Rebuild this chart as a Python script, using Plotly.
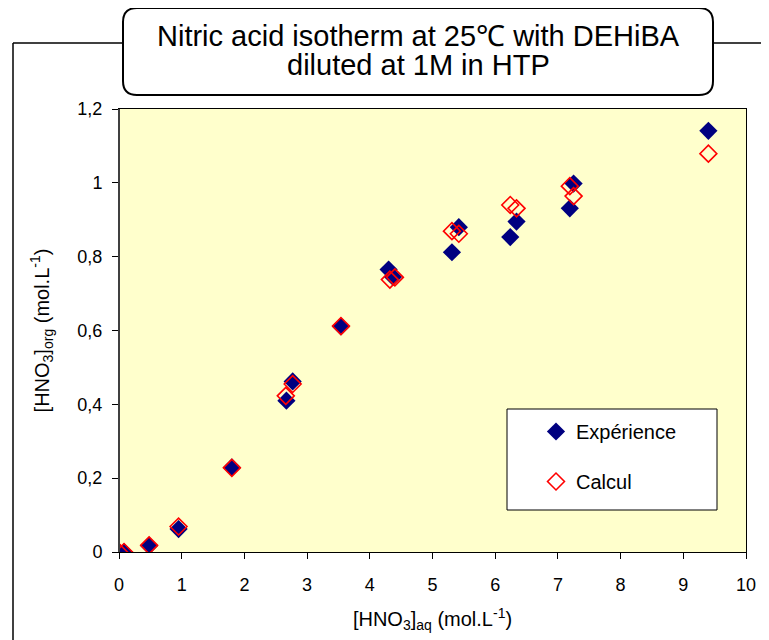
import plotly.graph_objects as go

# Nitric acid isotherm - DEHiBA 1M in HTP, 25 C
x_exp = [0, 0.08, 0.48, 0.95, 1.80, 2.67, 2.77, 3.54, 4.30, 4.37, 5.31, 5.42, 6.24, 6.34, 7.19, 7.25, 9.40]
y_exp = [0, 0, 0.017, 0.062, 0.229, 0.41, 0.462, 0.611, 0.765, 0.745, 0.812, 0.880, 0.853, 0.895, 0.931, 0.998, 1.141]

x_calc = [0, 0.08, 0.48, 0.95, 1.80, 2.66, 2.77, 3.54, 4.32, 4.40, 5.31, 5.42, 6.24, 6.34, 7.19, 7.25, 9.40]
y_calc = [0, 0, 0.018, 0.069, 0.228, 0.423, 0.455, 0.612, 0.738, 0.744, 0.869, 0.862, 0.940, 0.931, 0.991, 0.964, 1.079]

x_ticks = [0, 1, 2, 3, 4, 5, 6, 7, 8, 9, 10]
y_ticks = [0, 0.2, 0.4, 0.6, 0.8, 1.0, 1.2]
y_tick_labels = ['0', '0,2', '0,4', '0,6', '0,8', '1', '1,2']

font_name = 'Liberation Sans, Arial, sans-serif'

# page has an 8px body margin, so work in screen pixels and shift
OFF = 8
FW, FH = 769 - OFF, 640 - OFF
# plot area in screen pixels: x 119..746, y 109..552
L, R, T, B = 119, 746, 109, 552
W, H = R - L, B - T

def px(v):
    return (v - L) / W

def py(v):
    return (B - v) / H

fig = go.Figure()
fig.add_trace(go.Scatter(
    x=x_exp, y=y_exp, mode='markers', name='Expérience', legendgroup='a',
    marker=dict(symbol='diamond', size=14, color='#000080', line=dict(width=0))))
fig.add_trace(go.Scatter(
    x=x_calc, y=y_calc, mode='markers', name='Calcul', legendgroup='b',
    marker=dict(symbol='diamond-open', size=13, color='#FF0000', line=dict(width=1.6, color='#FF0000'))))

# outer frame and title box
r = 14
x0, x1, y0, y1 = px(123), px(713), py(95), py(8)
rx, ry = r / W, r / H
title_path = (f'M {x0+rx},{y1} L {x1-rx},{y1} Q {x1},{y1} {x1},{y1-ry} '
              f'L {x1},{y0+ry} Q {x1},{y0} {x1-rx},{y0} L {x0+rx},{y0} '
              f'Q {x0},{y0} {x0},{y0+ry} L {x0},{y1-ry} Q {x0},{y1} {x0+rx},{y1} Z')
shapes = [
    dict(type='line', xref='paper', yref='paper', x0=px(13), x1=px(13), y0=py(660), y1=py(43),
         line=dict(color='black', width=1.5)),
    dict(type='line', xref='paper', yref='paper', x0=px(13), x1=px(123), y0=py(43), y1=py(43),
         line=dict(color='black', width=1.5)),
    dict(type='line', xref='paper', yref='paper', x0=px(713), x1=px(780), y0=py(43), y1=py(43),
         line=dict(color='black', width=1.5)),
    dict(type='path', xref='paper', yref='paper', path=title_path,
         fillcolor='white', line=dict(color='black', width=2)),
    dict(type='rect', xref='paper', yref='paper', x0=px(507), x1=px(717), y0=py(510), y1=py(409),
         fillcolor='white', line=dict(color='black', width=1), layer='above'),
    # darker, heavier left axis line as in the original
    dict(type='line', xref='paper', yref='paper', x0=0, x1=0, y0=0, y1=1,
         line=dict(color='#404040', width=2), layer='above'),
]

title_lines = ['Nitric acid isotherm at 25℃ with DEHiBA', 'diluted at 1M in HTP']
title_y = [36, 65]
annotations = [dict(text=t, xref='paper', yref='paper', x=px(418), y=py(yy), xanchor='center',
                    yanchor='middle', showarrow=False, font=dict(size=29, family=font_name))
               for t, yy in zip(title_lines, title_y)]

fig.update_layout(
    width=FW, height=FH,
    margin=dict(l=L - OFF, r=FW - (R - OFF), t=T - OFF, b=FH - (B - OFF)),
    paper_bgcolor='white', plot_bgcolor='#FFFFCC',
    font=dict(family=font_name, size=18, color='black'),
    shapes=shapes,
    annotations=annotations,
    showlegend=True,
    legend=dict(x=px(536), y=py(412), xanchor='left', yanchor='top',
                bgcolor='rgba(0,0,0,0)', borderwidth=0, traceorder='grouped',
                tracegroupgap=21, font=dict(size=20)),
)
fig.update_xaxes(range=[0, 10], tickvals=x_ticks, showgrid=False, zeroline=False,
                 showline=True, linecolor='black', linewidth=1, mirror=True,
                 ticks='outside', ticklen=6, tickcolor='black', ticklabelstandoff=10,
                 title=dict(text='[HNO<sub>3</sub>]<sub>aq</sub> (mol.L<sup>-1</sup>)', standoff=18,
                            font=dict(size=20)))
fig.update_yaxes(range=[0, 1.2], tickvals=y_ticks, ticktext=y_tick_labels, showgrid=False, zeroline=False,
                 showline=True, linecolor='black', linewidth=1, mirror=True,
                 ticks='outside', ticklen=6, tickcolor='black', ticklabelstandoff=6,
                 title=dict(text='[HNO<sub>3</sub>]<sub>org</sub> (mol.L<sup>-1</sup>)', standoff=22,
                            font=dict(size=20)))

fig.write_html('out.html')
